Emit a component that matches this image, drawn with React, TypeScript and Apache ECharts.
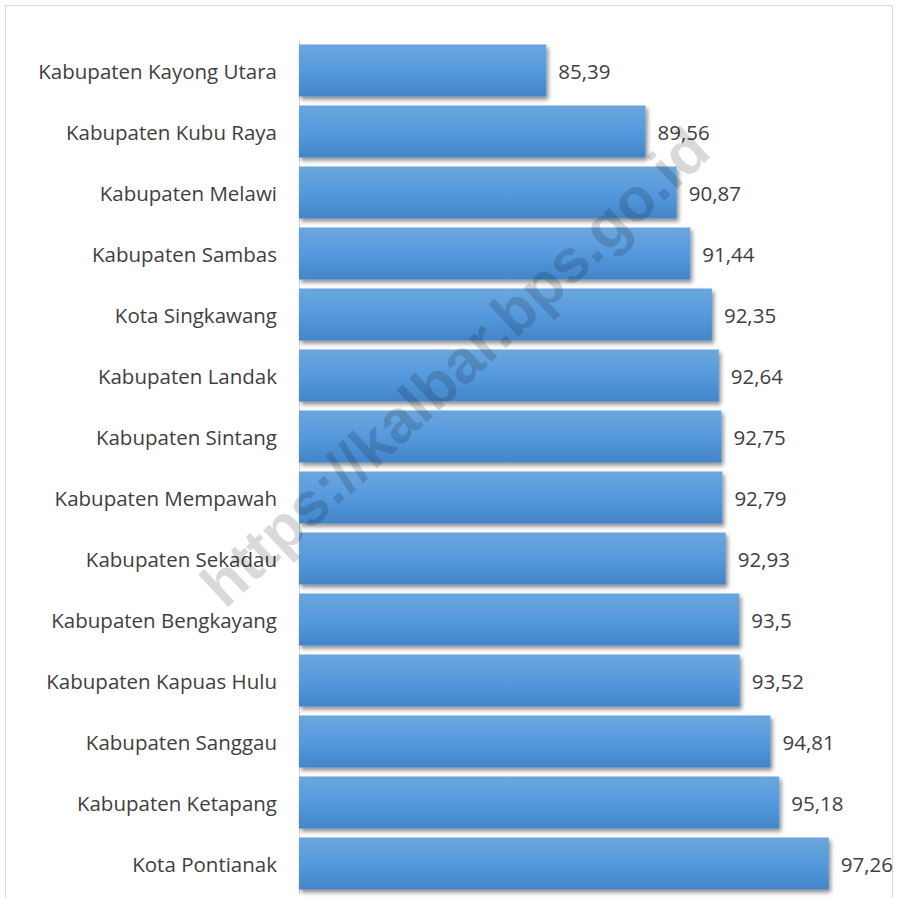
import React, { useEffect, useRef } from "react";
import * as echarts from "echarts";

const categories = [
  "Kabupaten Kayong Utara",
  "Kabupaten Kubu Raya",
  "Kabupaten Melawi",
  "Kabupaten Sambas",
  "Kota Singkawang",
  "Kabupaten Landak",
  "Kabupaten Sintang",
  "Kabupaten Mempawah",
  "Kabupaten Sekadau",
  "Kabupaten Bengkayang",
  "Kabupaten Kapuas Hulu",
  "Kabupaten Sanggau",
  "Kabupaten Ketapang",
  "Kota Pontianak",
];

const values = [85.39, 89.56, 90.87, 91.44, 92.35, 92.64, 92.75, 92.79, 92.93, 93.5, 93.52, 94.81, 95.18, 97.26];

const watermark = "https://kalbar.bps.go.id";

export default function App() {
  const ref = useRef<HTMLDivElement>(null);
  useEffect(() => {
    document.body.style.margin = "0";
    if (!ref.current) return;
    const chart = echarts.init(ref.current, null, { renderer: "svg" });
    const font = "'Open Sans', 'Noto Sans', sans-serif";
    chart.setOption({
      animation: false,
      backgroundColor: "#ffffff",
      grid: { left: 299, right: 3, top: 40, bottom: 4, containLabel: false },
      xAxis: {
        type: "value",
        min: 75,
        max: 100,
        show: false,
        splitLine: { show: false },
      },
      yAxis: {
        type: "category",
        inverse: true,
        data: categories,
        axisLine: { show: true, lineStyle: { color: "#d9d9d9", width: 1 } },
        axisTick: { show: false },
        axisLabel: {
          color: "#404040",
          fontSize: 20.5,
          fontFamily: font,
          margin: 22,
        },
      },
      series: [
        {
          type: "bar",
          data: values,
          barCategoryGap: "15%",
          itemStyle: {
            color: new echarts.graphic.LinearGradient(0, 0, 0, 1, [
              { offset: 0, color: "#6ba6dd" },
              { offset: 0.5, color: "#559ade" },
              { offset: 1, color: "#4285c8" },
            ]),
            shadowColor: "rgba(0,0,0,0.45)",
            shadowBlur: 4,
            shadowOffsetX: 2,
            shadowOffsetY: 3,
          },
          label: {
            show: true,
            position: "right",
            distance: 12,
            color: "#404040",
            fontSize: 20.5,
            fontFamily: font,
            formatter: (p: any) => String(p.value).replace(".", ","),
          },
        },
      ],
      graphic: [
        {
          type: "rect",
          shape: { x: 5.5, y: 5.5, width: 887, height: 900 },
          style: { fill: "none", stroke: "#d9d9d9", lineWidth: 1 },
          z: 0,
          silent: true,
        },
        {
          type: "text",
          x: 455,
          y: 367,
          rotation: (43 * Math.PI) / 180,
          z: 100,
          style: {
            text: watermark,
            fill: "rgba(0,0,0,0.15)",
            font: "bold 61px Arial, 'Liberation Sans', sans-serif",
            align: "center",
            verticalAlign: "middle",
          },
          silent: true,
        },
      ],
    });
    return () => chart.dispose();
  }, []);
  return <div ref={ref} style={{ width: 897, height: 898 }} />;
}
